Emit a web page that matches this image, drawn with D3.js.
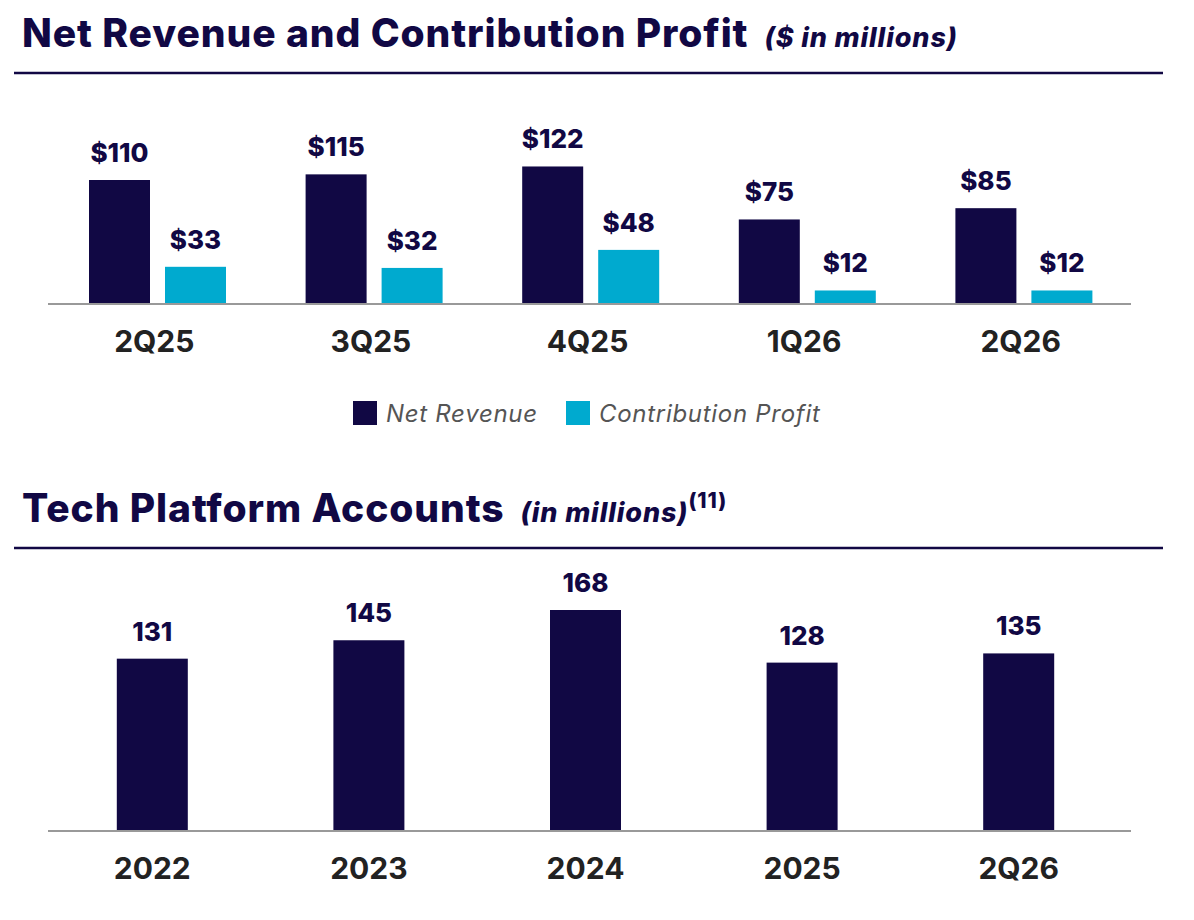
<!DOCTYPE html>
<html>
<head>
<meta charset="utf-8">
<script src="https://cdn.jsdelivr.net/npm/d3@7"></script>
<style>
  body { margin: 0; background: #fff; }
  svg { font-family: Inter, "Noto Sans", sans-serif; }
</style>
</head>
<body>
<svg id="chart" width="1194" height="920"></svg>
<script>
const NAVY = '#110844';
const CYAN = '#00aacf';

const quarters       = ['2Q25', '3Q25', '4Q25', '1Q26', '2Q26'];
const netRevenue     = [110, 115, 122, 75, 85];
const contribProfit  = [33, 32, 48, 12, 12];

const years    = ['2022', '2023', '2024', '2025', '2Q26'];
const accounts = [131, 145, 168, 128, 135];

const svg = d3.select('#chart');

function header(y, title, sub, sup) {
  const t = svg.append('text').attr('x', 22).attr('y', y)
    .attr('fill', NAVY).attr('font-size', 39).attr('font-weight', 800)
    .attr('letter-spacing', 0.9);
  t.append('tspan').text(title);
  t.append('tspan').attr('dx', 16).attr('font-size', 27).attr('font-style', 'italic').text(sub);
  if (sup) t.append('tspan').attr('dy', -14).attr('font-size', 21).text(sup);
  svg.append('line').attr('x1', 14).attr('x2', 1163).attr('y1', y + 26).attr('y2', y + 26)
    .attr('stroke', NAVY).attr('stroke-width', 2.5);
}

// ---- top chart
header(47, 'Net Revenue and Contribution Profit', '($ in millions)');

const x1 = d3.scaleBand().domain(quarters).range([48, 1131]);
const y1 = d3.scaleLinear().domain([0, 110]).range([304, 180]);
const bw1 = 61;

const grp = svg.append('g').selectAll('g').data(quarters).join('g')
  .attr('transform', d => `translate(${x1(d)},0)`);

grp.each(function (q, i) {
  const g = d3.select(this);
  [[netRevenue[i], NAVY, 41], [contribProfit[i], CYAN, 41 + bw1 + 15]].forEach(([v, c, off]) => {
    g.append('rect').attr('x', off).attr('width', bw1)
      .attr('y', y1(v)).attr('height', y1(0) - y1(v)).attr('fill', c);
    g.append('text').attr('x', off + bw1 / 2).attr('y', y1(v) - 18)
      .attr('text-anchor', 'middle').attr('font-size', 26).attr('font-weight', 800)
      .attr('fill', NAVY).text('$' + v);
  });
});

svg.append('line').attr('x1', 48).attr('x2', 1131).attr('y1', 304).attr('y2', 304)
  .attr('stroke', '#999').attr('stroke-width', 2);

svg.append('g').selectAll('text').data(quarters).join('text')
  .attr('x', d => x1(d) + x1.bandwidth() / 2 - 2).attr('y', 352)
  .attr('text-anchor', 'middle').attr('font-size', 30).attr('font-weight', 700)
  .attr('fill', '#222').text(d => d);

// legend
const legend = [['Net Revenue', NAVY, 353], ['Contribution Profit', CYAN, 566]];
legend.forEach(([label, c, lx]) => {
  svg.append('rect').attr('x', lx).attr('y', 401).attr('width', 24).attr('height', 24).attr('fill', c);
  svg.append('text').attr('x', lx + 33).attr('y', 422).attr('font-size', 24)
    .attr('letter-spacing', 0.7)
    .attr('font-style', 'italic').attr('fill', '#555').text(label);
});

// ---- bottom chart
header(522, 'Tech Platform Accounts', '(in millions)', '(11)');

const x2 = d3.scaleBand().domain(years).range([48, 1131]);
const y2 = d3.scaleLinear().domain([0, 168]).range([831, 610]);
const bw2 = 71;

svg.append('g').selectAll('rect').data(years).join('rect')
  .attr('x', d => x2(d) + x2.bandwidth() / 2 - bw2 / 2 - 4).attr('width', bw2)
  .attr('y', (d, i) => y2(accounts[i])).attr('height', (d, i) => y2(0) - y2(accounts[i]))
  .attr('fill', NAVY);

svg.append('g').selectAll('text').data(years).join('text')
  .attr('x', d => x2(d) + x2.bandwidth() / 2 - 4).attr('y', (d, i) => y2(accounts[i]) - 18)
  .attr('text-anchor', 'middle').attr('font-size', 26).attr('font-weight', 800)
  .attr('fill', NAVY).text((d, i) => accounts[i]);

svg.append('line').attr('x1', 48).attr('x2', 1131).attr('y1', 831).attr('y2', 831)
  .attr('stroke', '#999').attr('stroke-width', 2);

svg.append('g').selectAll('text.cat').data(years).join('text')
  .attr('x', d => x2(d) + x2.bandwidth() / 2 - 4).attr('y', 879)
  .attr('text-anchor', 'middle').attr('font-size', 30).attr('font-weight', 700)
  .attr('fill', '#222').text(d => d);
</script>
</body>
</html>
